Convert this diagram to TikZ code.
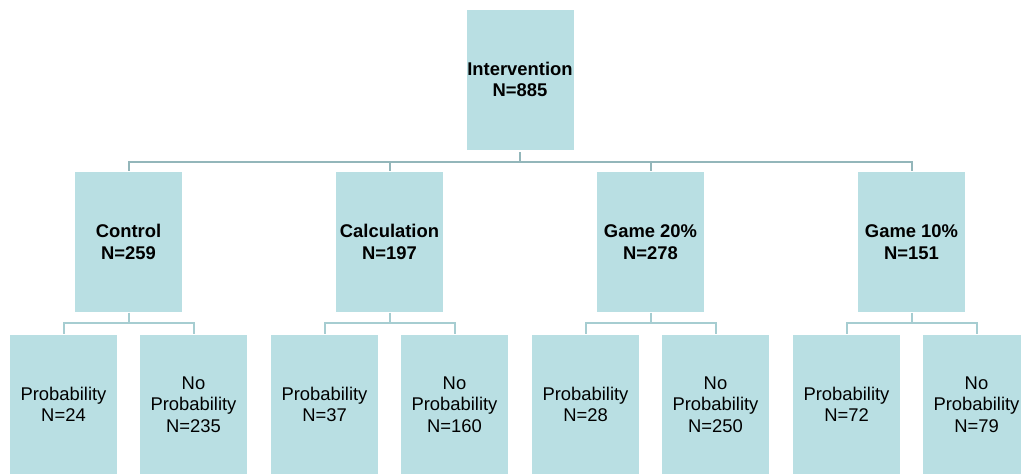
\documentclass[tikz,border=0pt]{standalone}
\usepackage{fontspec}
\setmainfont{Liberation Sans}
\definecolor{boxfill}{HTML}{B9DFE3}
\definecolor{linkcol}{HTML}{93B6BA}
\definecolor{sublinkcol}{HTML}{A6CDD1}
\begin{document}
\begin{tikzpicture}[x=1pt,y=-1pt,
  box/.style={fill=boxfill,draw=white,line width=0.6pt,minimum width=108pt,minimum height=141pt,inner sep=0pt,align=center,font=\fontsize{18.4}{21.5}\selectfont},
  bbox/.style={box,font=\fontsize{18.4}{21.5}\selectfont\bfseries},
  link/.style={draw=linkcol,line width=2pt},
  sublink/.style={draw=sublinkcol,line width=2pt}]
\useasboundingbox (0,0) rectangle (1021,474);
\clip (0,0) rectangle (1021,474);
\node[bbox] (top) at (520,79.5) {Intervention\\N=885};
\node[bbox] (c1) at (128.5,242) {Control\\N=259};
\node[bbox] (c2) at (389.5,242) {Calculation\\N=197};
\node[bbox] (c3) at (650.5,242) {Game 20\%\\N=278};
\node[bbox] (c4) at (911.5,242) {Game 10\%\\N=151};
\node[box] (p1) at (63.5,404.5) {Probability\\N=24};
\node[box] (n1) at (193.5,404.5) {No\\Probability\\N=235};
\node[box] (p2) at (324.5,404.5) {Probability\\N=37};
\node[box] (n2) at (454.5,404.5) {No\\Probability\\N=160};
\node[box] (p3) at (585.5,404.5) {Probability\\N=28};
\node[box] (n3) at (715.5,404.5) {No\\Probability\\N=250};
\node[box] (p4) at (846.5,404.5) {Probability\\N=72};
\node[box] (n4) at (976.5,404.5) {No\\Probability\\N=79};
\foreach \c in {c1,c2,c3,c4}
  \draw[link] (top.south) ++(0,-2pt) -- ++(0,-9.5pt) -| (\c.north);
\foreach \c/\p/\n in {c1/p1/n1,c2/p2/n2,c3/p3/n3,c4/p4/n4}{
  \draw[sublink] (\c.south) -- ++(0,-10.5pt) -| (\p.north);
  \draw[sublink] (\c.south) -- ++(0,-10.5pt) -| (\n.north);
}
\end{tikzpicture}
\end{document}
